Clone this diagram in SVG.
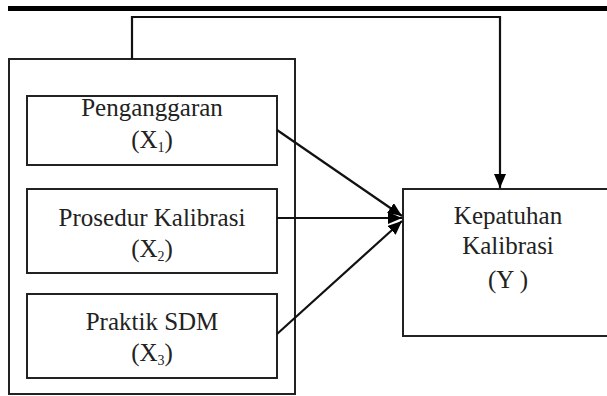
<svg xmlns="http://www.w3.org/2000/svg" width="607" height="396" viewBox="0 0 607 396">
<defs>
<style>
.box{fill:#fff;stroke:#222;stroke-width:2}
.t{font-family:"Liberation Serif","Times New Roman",serif;font-size:25px;fill:#222;text-anchor:middle}
.sub{font-size:14px}
.c{fill:none;stroke:#111;stroke-width:2.2}
</style>
<marker id="ah2" markerWidth="14" markerHeight="12" refX="14" refY="6" orient="auto" markerUnits="userSpaceOnUse" viewBox="0 0 14 12">
<path d="M0,0 L14,6 L0,12 z" fill="#000"/>
</marker>
</defs>
<rect x="8" y="6" width="599" height="5" fill="#000"/>
<g id="outer"><rect class="box" x="9" y="59" width="286" height="335"/></g>
<g id="x1"><rect class="box" x="27" y="96" width="250" height="69"/>
<text class="t" x="152" y="116">Penganggaran</text>
<text class="t" x="152" y="148">(X<tspan class="sub" dy="4">1</tspan><tspan dy="-4">)</tspan></text></g>
<g id="x2"><rect class="box" x="27" y="189" width="250" height="84"/>
<text class="t" x="152" y="226">Prosedur Kalibrasi</text>
<text class="t" x="152" y="257">(X<tspan class="sub" dy="4">2</tspan><tspan dy="-4">)</tspan></text></g>
<g id="x3"><rect class="box" x="27" y="294" width="250" height="84"/>
<text class="t" x="152" y="330">Praktik SDM</text>
<text class="t" x="152" y="361">(X<tspan class="sub" dy="4">3</tspan><tspan dy="-4">)</tspan></text></g>
<g id="y"><rect class="box" x="403" y="189" width="210" height="147"/>
<text class="t" x="508" y="224">Kepatuhan</text>
<text class="t" x="508" y="254">Kalibrasi</text>
<text class="t" x="508" y="288">(Y )</text></g>
<g id="connectors">
<polyline class="c" points="132,59 132,17 500,17 500,188" marker-end="url(#ah2)"/>
<line class="c" x1="277" y1="130" x2="402" y2="216" marker-end="url(#ah2)"/>
<line class="c" x1="277" y1="218" x2="402" y2="218" marker-end="url(#ah2)"/>
<line class="c" x1="277" y1="334" x2="402" y2="221" marker-end="url(#ah2)"/>
</g>
</svg>
